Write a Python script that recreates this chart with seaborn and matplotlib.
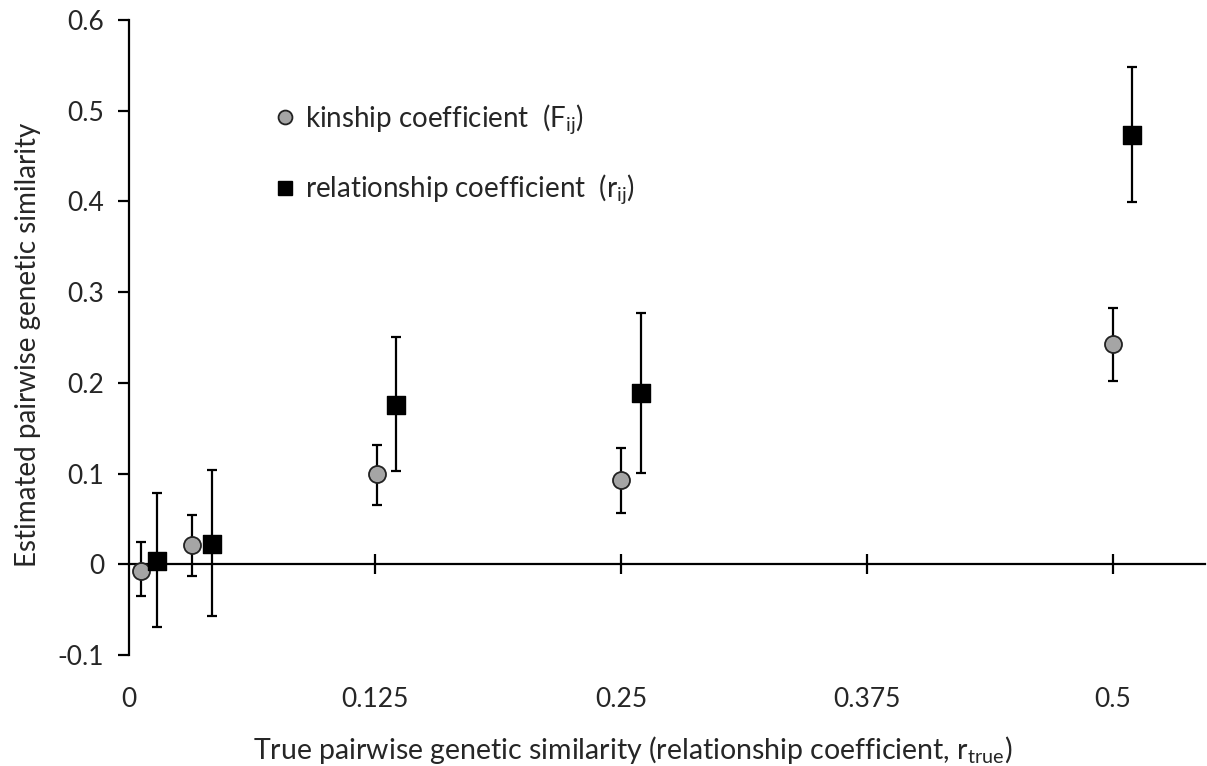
import numpy as np
import pandas as pd
import matplotlib
matplotlib.use("Agg")
import matplotlib.pyplot as plt
from matplotlib.lines import Line2D
import seaborn as sns

# Kinship coefficient (F_ij): x position, mean, lower and upper bounds
kin_x = [0.006, 0.032, 0.126, 0.250, 0.500]
kin_mean = [-0.007, 0.021, 0.099, 0.093, 0.243]
kin_low = [-0.035, -0.013, 0.065, 0.057, 0.202]
kin_high = [0.025, 0.054, 0.131, 0.128, 0.283]

# Relationship coefficient (r_ij): x position, mean, lower and upper bounds
rel_x = [0.014, 0.042, 0.1355, 0.260, 0.5095]
rel_mean = [0.004, 0.022, 0.176, 0.189, 0.473]
rel_low = [-0.069, -0.057, 0.103, 0.101, 0.399]
rel_high = [0.079, 0.104, 0.250, 0.277, 0.548]

x_ticks = [0, 0.125, 0.25, 0.375, 0.5]
x_tick_labels = ["0", "0.125", "0.25", "0.375", "0.5"]
y_ticks = [-0.1, 0, 0.1, 0.2, 0.3, 0.4, 0.5, 0.6]
y_tick_labels = ["-0.1", "0", "0.1", "0.2", "0.3", "0.4", "0.5", "0.6"]

sns.set_theme(style="white")
plt.rcParams["font.family"] = ["Lato", "DejaVu Sans"]
plt.rcParams["mathtext.fontset"] = "custom"
plt.rcParams["mathtext.rm"] = "Lato"

fig = plt.figure(figsize=(12.07, 7.66), dpi=100)
ax = fig.add_axes([0.1069, 0.1449, 0.8914, 0.829])

kin = pd.DataFrame({"x": kin_x, "y": kin_mean})
rel = pd.DataFrame({"x": rel_x, "y": rel_mean})

# error bars first so markers sit on top
ax.errorbar(kin_x, kin_mean,
            yerr=[np.array(kin_mean) - np.array(kin_low), np.array(kin_high) - np.array(kin_mean)],
            fmt="none", ecolor="black", elinewidth=1.6, capsize=3.5, capthick=1.6, zorder=2)
ax.errorbar(rel_x, rel_mean,
            yerr=[np.array(rel_mean) - np.array(rel_low), np.array(rel_high) - np.array(rel_mean)],
            fmt="none", ecolor="black", elinewidth=1.6, capsize=3.5, capthick=1.6, zorder=2)

sns.scatterplot(data=kin, x="x", y="y", ax=ax, marker="o", s=150,
                color="#A5A5A5", edgecolor="#222222", linewidth=1.3, zorder=3, legend=False)
sns.scatterplot(data=rel, x="x", y="y", ax=ax, marker="s", s=150,
                color="black", edgecolor="black", linewidth=1, zorder=3, legend=False)

ax.set_xlim(0, 0.5467)
ax.set_ylim(-0.1, 0.6)

for side in ["top", "right"]:
    ax.spines[side].set_visible(False)
ax.spines["left"].set_color("black")
ax.spines["left"].set_linewidth(1.6)
ax.spines["bottom"].set_position(("data", 0))
ax.spines["bottom"].set_color("black")
ax.spines["bottom"].set_linewidth(1.6)

ax.set_yticks(y_ticks)
ax.set_yticklabels(y_tick_labels)
ax.tick_params(axis="y", direction="out", length=8, width=1.6, color="black",
               labelsize=19, pad=10, left=True)
ax.set_xticks(x_ticks[1:])
ax.tick_params(axis="x", direction="inout", length=14, width=1.6, color="black",
               labelbottom=False, bottom=True)

# tick labels along the bottom edge of the axes
sec = ax.secondary_xaxis(0)
sec.set_xticks(x_ticks)
sec.set_xticklabels(x_tick_labels)
sec.spines["bottom"].set_visible(False)
sec.tick_params(axis="x", length=0, labelsize=19, pad=23)

ax.set_xlabel("True pairwise genetic similarity (relationship coefficient, r$_{\\mathregular{true}}$)",
              fontsize=20.5, labelpad=0)
ax.xaxis.set_label_coords(0.468, -0.125)
ax.set_ylabel("Estimated pairwise genetic similarity", fontsize=20)
ax.yaxis.set_label_coords(-0.082, 0.489)

handles = [
    Line2D([], [], marker="o", linestyle="none", markersize=10,
           markerfacecolor="#A5A5A5", markeredgecolor="#222222", markeredgewidth=1.3),
    Line2D([], [], marker="s", linestyle="none", markersize=10,
           markerfacecolor="black", markeredgecolor="black"),
]
labels = ["kinship coefficient  (F$_{\\mathregular{ij}}$)",
          "relationship coefficient  (r$_{\\mathregular{ij}}$)"]
ax.legend(handles, labels, loc="upper left", bbox_to_anchor=(0.135, 0.87),
          frameon=False, fontsize=20, handlelength=0.8, handletextpad=0.3,
          labelspacing=1.3, borderpad=0, borderaxespad=0)

fig.savefig("out.png", dpi=100)
